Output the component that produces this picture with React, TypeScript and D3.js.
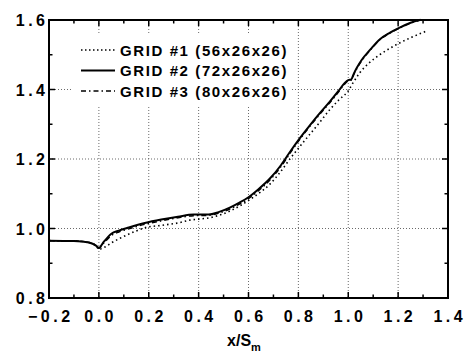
import React from "react";
import * as d3 from "d3";

const xTicks = [-0.2, 0.0, 0.2, 0.4, 0.6, 0.8, 1.0, 1.2, 1.4];
const yTicks = [0.8, 1.0, 1.2, 1.4, 1.6];
const xMinor = [-0.1, 0.1, 0.3, 0.5, 0.7, 0.9, 1.1, 1.3];
const yMinor = [0.9, 1.1, 1.3, 1.5];

const legendLabels = ["GRID #1 (56x26x26)", "GRID #2 (72x26x26)", "GRID #3 (80x26x26)"];

const grid1X = [-0.2, -0.1, -0.04, -0.01, 0.0, 0.02, 0.051, 0.085, 0.117, 0.15, 0.184, 0.25, 0.318, 0.365, 0.4, 0.445, 0.49, 0.525, 0.565, 0.605, 0.645, 0.685, 0.725, 0.766, 0.806, 0.846, 0.886, 0.926, 0.965, 0.999, 1.02, 1.046, 1.08, 1.126, 1.166, 1.206, 1.26, 1.313];
const grid1Y = [0.965, 0.964, 0.96, 0.95, 0.94, 0.945, 0.959, 0.972, 0.983, 0.993, 1.002, 1.009, 1.016, 1.024, 1.027, 1.031, 1.04, 1.05, 1.065, 1.083, 1.103, 1.127, 1.16, 1.2, 1.236, 1.271, 1.306, 1.342, 1.372, 1.395, 1.42, 1.448, 1.474, 1.5, 1.518, 1.534, 1.552, 1.568];

const grid2X = [-0.2, -0.1, -0.04, -0.01, 0.0, 0.02, 0.05, 0.08, 0.12, 0.184, 0.25, 0.317, 0.38, 0.44, 0.48, 0.525, 0.56, 0.6, 0.64, 0.685, 0.73, 0.766, 0.806, 0.846, 0.886, 0.926, 0.96, 0.985, 1.0, 1.012, 1.022, 1.035, 1.053, 1.09, 1.126, 1.166, 1.206, 1.25, 1.29];
const grid2Y = [0.965, 0.964, 0.96, 0.95, 0.944, 0.962, 0.985, 0.994, 1.003, 1.016, 1.026, 1.034, 1.04, 1.04, 1.047, 1.06, 1.073, 1.09, 1.113, 1.143, 1.182, 1.22, 1.26, 1.297, 1.332, 1.365, 1.395, 1.418, 1.427, 1.429, 1.445, 1.463, 1.484, 1.516, 1.544, 1.563, 1.578, 1.592, 1.601];

const grid3X = [-0.2, -0.1, -0.04, -0.01, 0.0, 0.02, 0.05, 0.08, 0.12, 0.184, 0.25, 0.317, 0.38, 0.44, 0.48, 0.525, 0.56, 0.6, 0.64, 0.685, 0.73, 0.766, 0.806, 0.846, 0.886, 0.926, 0.96, 0.985, 1.0, 1.012, 1.022, 1.035, 1.053, 1.09, 1.126, 1.166, 1.206, 1.25, 1.29];
const grid3Y = [0.965, 0.964, 0.96, 0.95, 0.943, 0.958, 0.98, 0.99, 0.999, 1.012, 1.022, 1.031, 1.037, 1.038, 1.044, 1.056, 1.069, 1.086, 1.109, 1.139, 1.178, 1.216, 1.257, 1.294, 1.329, 1.362, 1.392, 1.415, 1.425, 1.427, 1.443, 1.461, 1.482, 1.515, 1.543, 1.562, 1.577, 1.591, 1.6];

const W = 467;
const H = 352;
const L = 49, R = 448, T = 20, B = 298;

export default function App() {
  const x = d3.scaleLinear().domain([-0.2, 1.4]).range([L, R]);
  const y = d3.scaleLinear().domain([0.8, 1.6]).range([B, T]);
  const line = d3.line<[number, number]>().x(d => x(d[0])).y(d => y(d[1])).curve(d3.curveMonotoneX);
  const mk = (xs: number[], ys: number[]) => line(xs.map((v, i) => [v, ys[i]] as [number, number])) || "";

  const font = "Arial, 'Liberation Sans', Helvetica, sans-serif";
  const ls = 3.5;

  const legendStyles = [
    { dash: "1.5,2.5", width: 1.4 },
    { dash: "none", width: 2 },
    { dash: "5,3,1.5,3", width: 1.5 },
  ];

  return (
    <svg width={W} height={H} style={{ position: "absolute", left: 0, top: 0, background: "#fff" }} fontFamily={font}>
      <rect x={0} y={0} width={W} height={H} fill="#fff" />
      <g stroke="#444" strokeWidth={0.8} strokeDasharray="1,2">
        {xTicks.slice(1, -1).map(t => (
          <line key={"gx" + t} x1={x(t)} x2={x(t)} y1={T} y2={B} />
        ))}
        {yTicks.slice(1, -1).map(t => (
          <line key={"gy" + t} x1={L} x2={R} y1={y(t)} y2={y(t)} />
        ))}
      </g>
      <rect x={73} y={35} width={219} height={72} fill="#fff" />
      <g stroke="#000" strokeWidth={1.5}>
        {xTicks.map(t => (
          <g key={"tx" + t}>
            <line x1={x(t)} x2={x(t)} y1={B} y2={B - 6} />
            <line x1={x(t)} x2={x(t)} y1={T} y2={T + 6} />
          </g>
        ))}
        {xMinor.map(t => (
          <g key={"mx" + t}>
            <line x1={x(t)} x2={x(t)} y1={B} y2={B - 3.5} />
            <line x1={x(t)} x2={x(t)} y1={T} y2={T + 3.5} />
          </g>
        ))}
        {yTicks.map(t => (
          <g key={"ty" + t}>
            <line x1={L} x2={L + 6} y1={y(t)} y2={y(t)} />
            <line x1={R} x2={R - 6} y1={y(t)} y2={y(t)} />
          </g>
        ))}
        {yMinor.map(t => (
          <g key={"my" + t}>
            <line x1={L} x2={L + 3.5} y1={y(t)} y2={y(t)} />
            <line x1={R} x2={R - 3.5} y1={y(t)} y2={y(t)} />
          </g>
        ))}
      </g>
      <path d={mk(grid3X, grid3Y)} fill="none" stroke="#000" strokeWidth={1.5} strokeDasharray="5,3,1.5,3" />
      <path d={mk(grid1X, grid1Y)} fill="none" stroke="#000" strokeWidth={1.6} strokeDasharray="1.5,3" />
      <path d={mk(grid2X, grid2Y)} fill="none" stroke="#000" strokeWidth={2} />
      <rect x={L} y={T} width={R - L} height={B - T} fill="none" stroke="#000" strokeWidth={2} />
      <g fontSize={16} fontWeight="bold" fill="#000" style={{ letterSpacing: `${ls}px` }}>
        {xTicks.map(t => (
          <text key={"lx" + t} x={x(t) + ls / 2} y={322} textAnchor="middle">
            {d3.format(".1f")(t)}
          </text>
        ))}
        {yTicks.map(t => (
          <text key={"ly" + t} x={45 + ls} y={y(t) + 6} textAnchor="end">
            {d3.format(".1f")(t)}
          </text>
        ))}
      </g>
      <text x={244} y={346} textAnchor="middle" fontSize={16} fontWeight="bold" fill="#000">
        x/S<tspan fontSize={11} dy={5}>m</tspan>
      </text>
      {legendLabels.map((lab, i) => {
        const ly = 50 + i * 20.5;
        const st = legendStyles[i];
        return (
          <g key={lab}>
            <line x1={81} x2={115} y1={ly} y2={ly} stroke="#000" strokeWidth={st.width} strokeDasharray={st.dash} />
            <text x={120} y={ly + 5.5} fontSize={15} fontWeight="bold" fill="#000" style={{ letterSpacing: "1.6px" }}>
              {lab}
            </text>
          </g>
        );
      })}
    </svg>
  );
}
